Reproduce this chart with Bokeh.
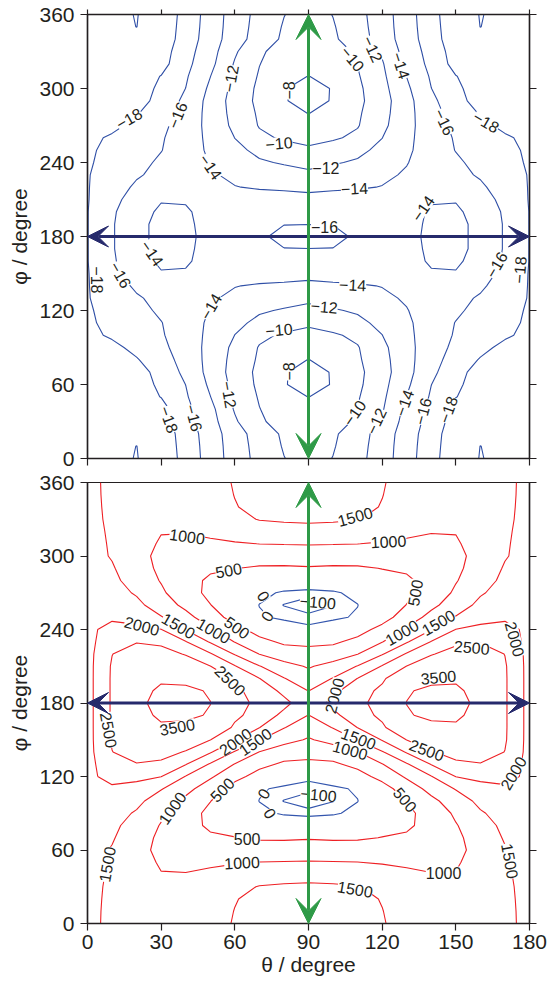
import numpy as np
from bokeh.plotting import figure
from bokeh.layouts import column
from bokeh.models import Range1d, LinearAxis, FixedTicker, Arrow, VeeHead, ColumnDataSource
from bokeh.core.properties import value
from bokeh.embed import file_html
from bokeh.resources import INLINE

# ---------------------------------------------------------------------------
# Grid nodes of one quarter of the (theta, phi) plane; the surfaces are
# symmetric about theta = 90 deg and phi = 180 deg.
THETA_NODES = [0, 10, 20, 30, 40, 50, 60, 70, 80, 90]
PHI_NODES = [0, 10, 20, 30, 40, 50, 60, 70, 80, 90,
             100, 110, 120, 130, 140, 150, 160, 170, 180]

# Upper panel: energy surface, rows = phi nodes, columns = theta nodes
ENERGY_QUADRANT = [
    [-18.6, -18.6, -17.9, -19.4, -17.28, -15.16, -13.06, -11.37, -10.05, -9.2],
    [-18.6, -18.6, -17.98, -19.3, -17.2, -15.1, -13.0, -11.24, -9.85, -9.1],
    [-18.7, -18.7, -18.6, -19.2, -17.1, -15.0, -12.9, -11.07, -9.7, -8.9],
    [-18.8, -18.9, -19.0, -18.9, -16.77, -14.8, -12.27, -10.15, -9.6, -8.7],
    [-18.8, -18.9, -18.9, -18.7, -16.54, -14.56, -11.82, -10.05, -9.0, -8.2],
    [-18.7, -18.8, -18.8, -17.95, -16.23, -14.04, -11.6, -9.83, -9.0, -7.95],
    [-18.8, -18.9, -19.0, -17.58, -15.98, -13.64, -11.39, -9.6, -8.05, -7.7],
    [-18.9, -19.0, -18.9, -17.22, -15.57, -13.35, -11.19, -9.53, -8.05, -7.75],
    [-18.9, -18.8, -18.15, -16.82, -15.29, -13.35, -11.34, -9.73, -8.9, -7.95],
    [-18.8, -18.5, -17.47, -16.44, -15.09, -13.41, -11.53, -9.88, -9.4, -8.7],
    [-18.5, -17.72, -16.95, -16.18, -14.97, -13.56, -11.98, -10.4, -9.75, -9.45],
    [-18.27, -17.54, -16.8, -16.06, -14.9, -13.69, -12.44, -11.58, -10.94, -10.3],
    [-18.2, -17.4, -16.56, -15.7, -14.8, -13.93, -13.07, -12.2, -11.85, -11.4],
    [-18.1, -17.2, -16.2, -15.49, -14.83, -14.17, -13.7, -13.1, -12.7, -12.46],
    [-18.1, -16.87, -15.7, -15.0, -14.7, -14.6, -14.05, -13.85, -13.75, -13.6],
    [-18.1, -16.53, -15.2, -14.1, -14.15, -14.5, -14.7, -14.7, -14.6, -14.5],
    [-18.05, -16.3, -14.6, -13.75, -13.8, -14.6, -15.1, -15.3, -15.3, -15.2],
    [-18.05, -16.2, -14.3, -13.7, -13.75, -14.45, -15.1, -15.6, -15.98, -15.99],
    [-18.05, -16.2, -14.3, -13.7, -13.7, -14.4, -15.2, -15.85, -16.25, -16.35],
]
ENERGY_LEVELS = [-18, -16, -14, -12, -10, -8]

# Lower panel: second property surface, same node layout
PROPERTY_QUADRANT = [
    [1580, 1430, 1260, 1180, 1200, 1340, 1530, 1650, 1720, 1750],
    [1585, 1430, 1250, 1160, 1180, 1320, 1510, 1640, 1710, 1730],
    [1590, 1435, 1220, 1120, 1140, 1270, 1480, 1610, 1670, 1680],
    [1600, 1440, 1180, 1080, 1080, 1200, 1380, 1520, 1560, 1580],
    [1620, 1450, 1180, 1015, 1020, 1100, 1220, 1290, 1320, 1335],
    [1640, 1460, 1150, 960, 900, 920, 960, 1005, 1020, 1030],
    [1660, 1470, 1185, 860, 720, 759, 738, 704, 722, 746],
    [1670, 1540, 1223, 900, 680, 550, 510, 451, 438, 463],
    [1680, 1610, 1296, 970, 620, 445, 370, 306, 190, 177],
    [1700, 1680, 1450, 1080, 680, 400, 220, 60, -30, -60],
    [1720, 1800, 1620, 1250, 880, 510, 210, -5, -105, -160],
    [1850, 1930, 1800, 1530, 1160, 720, 320, 25, -40, -70],
    [1900, 2140, 2145, 2010, 1480, 1070, 640, 330, 130, 45],
    [1830, 2340, 2470, 2380, 2020, 1450, 980, 620, 430, 390],
    [1830, 2490, 2750, 2720, 2460, 2050, 1460, 990, 720, 670],
    [1830, 2550, 3000, 3060, 2870, 2510, 2030, 1520, 1180, 950],
    [1830, 2560, 3200, 3420, 3350, 2950, 2420, 2010, 1520, 1230],
    [1830, 2560, 3300, 3600, 3620, 3450, 2600, 2300, 1880, 1490],
    [1830, 2560, 3350, 3700, 3720, 3510, 2650, 2400, 2130, 1700],
]
PROPERTY_LEVELS = [-100, 0, 500, 1000, 1500, 2000, 2500, 3500]

THETA_TICKS = [0, 30, 60, 90, 120, 150, 180]
PHI_TICKS = [0, 60, 120, 180, 240, 300, 360]

# Scan paths drawn as double-headed arrows
PATH_THETA = 90
PATH_PHI = 180

# Inline contour labels: (level, theta, phi, text angle in degrees)
ENERGY_LABELS = [
    (-18, 16.9, 275.6, 30), (-16, 36.6, 278.3, 68), (-12, 58.3, 308.0, 80),
    (-14, 50.2, 236.5, -55), (-10, 108.0, 324.0, -50), (-12, 116.2, 332.0, -65),
    (-14, 127.7, 318.7, -72), (-8, 82.1, 298.5, 90), (-10, 78.0, 255.6, 5),
    (-12, 97.1, 235.2, 0), (-14, 108.7, 219.0, 3), (-16, 96.5, 188.0, 0),
    (-16, 145.4, 272.9, -65), (-18, 162.4, 272.9, -30), (-14, 136.6, 202.8, 55),
    (-14, 26.4, 166.4, -55), (-18, 4.0, 144.8, -90), (-16, 13.5, 148.9, -60),
    (-14, 50.2, 123.2, 60), (-12, 57.7, 51.8, -80), (-18, 33.2, 31.6, -70),
    (-16, 43.4, 32.9, -75), (-14, 108.0, 140.8, -3), (-12, 96.4, 123.2, -5),
    (-10, 78.0, 104.4, 5), (-16, 166.5, 157.0, 60), (-18, 176.0, 152.9, 85),
    (-10, 108.7, 37.0, 55), (-12, 117.5, 30.2, 65), (-14, 129.0, 45.0, 70),
    (-16, 136.5, 38.3, 75), (-18, 146.8, 39.6, 70), (-8, 82.1, 70.6, 90),
]
PROPERTY_LABELS = [
    (1000, 40.6, 316.0, -8), (500, 57.5, 288.4, 10), (2000, 22.2, 243.0, -15),
    (1500, 37.1, 243.0, -30), (1000, 51.4, 239.0, -30), (500, 60.9, 241.6, -35),
    (2500, 58.2, 198.4, -45), (0, 71.7, 267.2, -60), (0, 73.1, 251.0, 60),
    (-100, 93.8, 262.4, -5), (1500, 109.0, 332.2, 15), (1000, 122.6, 311.9, 3),
    (500, 133.4, 270.0, 80), (1000, 128.0, 237.6, 30), (1500, 142.9, 245.7, 30),
    (2500, 156.5, 225.4, -5), (2000, 174.1, 232.1, -75), (3500, 142.9, 201.1, 5),
    (2000, 100.5, 186.0, 75), (2500, 8.7, 157.9, -80), (3500, 36.5, 160.5, 10),
    (2000, 60.2, 148.4, 35), (1500, 68.3, 148.4, 35), (500, 54.8, 109.2, 45),
    (1000, 34.5, 94.3, 55), (0, 71.7, 106.0, 60), (0, 74.4, 90.0, -60),
    (1500, 8.0, 48.3, 80), (1000, 62.9, 49.7, 3), (500, 65.0, 68.7, 0),
    (-100, 94.1, 105.2, -5), (1500, 109.0, 28.1, -10), (1000, 145.0, 41.6, 0),
    (500, 129.4, 101.1, -50), (1500, 110.4, 151.0, -20), (1000, 107.0, 141.6, -15),
    (2500, 138.2, 141.6, -20), (2000, 173.4, 122.7, 60), (1500, 172.1, 51.1, -80),
]

# ---------------------------------------------------------------------------
INK = "#231f20"
ENERGY_BLUE = "#2f4fa6"
RED = "#ee2024"
NEG_BLUE = "#3355ad"
GREEN = "#2e9a47"
NAVY = "#262a6c"
FONT = "Liberation Sans"
TICK_FONT = "21px"

theta = np.array(THETA_NODES + [180 - t for t in THETA_NODES[-2::-1]], dtype=float)
phi = np.array(PHI_NODES + [360 - f for f in PHI_NODES[-2::-1]], dtype=float)


def full_field(quadrant):
    """Unfold the quarter grid over theta 0-180 and phi 0-360."""
    q = np.asarray(quadrant, dtype=float)
    half = np.hstack([q, q[:, -2::-1]])
    return np.vstack([half, half[-2::-1, :]])


def level_text(level):
    return f"{level:g}".replace("-", "\u2212")


def style_axis(ax, tick_out=7, show_labels=True):
    ax.axis_line_color = INK
    ax.axis_line_width = 1.5
    ax.major_tick_line_color = INK
    ax.major_tick_line_width = 1.2
    ax.major_tick_in = 0
    ax.major_tick_out = tick_out
    ax.minor_tick_line_color = None
    ax.major_label_text_font = FONT
    ax.major_label_text_color = INK
    ax.axis_label_text_font = FONT
    ax.axis_label_text_font_size = TICK_FONT
    ax.axis_label_text_font_style = "normal"
    ax.axis_label_text_color = INK
    if show_labels:
        ax.major_label_text_font_size = TICK_FONT
        ax.major_label_standoff = 5
    else:
        ax.major_label_text_font_size = "0px"
        ax.major_label_standoff = 0
        ax.major_label_text_color = None


def make_panel(frame_height, border_top, border_bottom, x_labels, ticks_above):
    p = figure(frame_width=442, frame_height=frame_height,
               x_range=Range1d(0, 180), y_range=Range1d(0, 360),
               output_backend="svg", toolbar_location=None,
               min_border_left=87, min_border_right=22,
               min_border_top=border_top, min_border_bottom=border_bottom,
               background_fill_color="white", border_fill_color="white")
    p.grid.visible = False
    p.outline_line_color = INK
    p.outline_line_width = 1.2

    p.xaxis.ticker = FixedTicker(ticks=THETA_TICKS)
    p.yaxis.ticker = FixedTicker(ticks=PHI_TICKS)
    style_axis(p.yaxis[0], 7, True)
    p.yaxis.axis_label = "\u03c6 / degree"
    p.yaxis.axis_label_standoff = 5
    p.yaxis.major_label_standoff = 6
    style_axis(p.xaxis[0], 7, x_labels)
    if x_labels:
        p.xaxis.axis_label = "\u03b8 / degree"
        p.xaxis.axis_label_standoff = 1
        p.xaxis.major_label_standoff = 4

    right = LinearAxis(ticker=FixedTicker(ticks=PHI_TICKS))
    style_axis(right, 7, False)
    p.add_layout(right, "right")
    if ticks_above:
        top = LinearAxis(ticker=FixedTicker(ticks=THETA_TICKS))
        style_axis(top, 5, False)
        p.add_layout(top, "above")
    return p


def add_labels(p, labels):
    src = ColumnDataSource(dict(
        x=[lab[1] for lab in labels],
        y=[lab[2] for lab in labels],
        text=[level_text(lab[0]) for lab in labels],
        angle=[lab[3] for lab in labels],
    ))
    p.text(x="x", y="y", text="text", angle="angle", angle_units="deg", source=src,
           text_font=value(FONT), text_font_size="16px", text_color=INK,
           text_align="center", text_baseline="middle",
           background_fill_color="white")


def add_paths(p):
    p.add_layout(Arrow(x_start=0, y_start=PATH_PHI, x_end=180, y_end=PATH_PHI,
                       line_color=NAVY, line_width=3,
                       start=VeeHead(size=21, fill_color=NAVY, line_color=NAVY),
                       end=VeeHead(size=21, fill_color=NAVY, line_color=NAVY)))
    p.add_layout(Arrow(x_start=PATH_THETA, y_start=0, x_end=PATH_THETA, y_end=360,
                       line_color=GREEN, line_width=3,
                       start=VeeHead(size=25, fill_color=GREEN, line_color=GREEN),
                       end=VeeHead(size=25, fill_color=GREEN, line_color=GREEN)))


# Upper panel: frame rows 14..458, canvas 470 px tall
top = make_panel(444, 14, 12, x_labels=False, ticks_above=True)
top.contour(x=theta, y=phi, z=full_field(ENERGY_QUADRANT), levels=ENERGY_LEVELS,
            line_color=ENERGY_BLUE, line_width=1.1)
add_labels(top, ENERGY_LABELS)
add_paths(top)

# Lower panel: frame rows 482..923, canvas 514 px tall
bottom = make_panel(441, 12, 61, x_labels=True, ticks_above=False)
bottom.contour(x=theta, y=phi, z=full_field(PROPERTY_QUADRANT), levels=PROPERTY_LEVELS,
               line_color=[NEG_BLUE if lv <= 0 else RED for lv in PROPERTY_LEVELS],
               line_width=1.1)
add_labels(bottom, PROPERTY_LABELS)
add_paths(bottom)

layout = column(top, bottom, spacing=0)
open("out.html", "w").write(file_html(layout, INLINE, "Torsion surfaces"))
